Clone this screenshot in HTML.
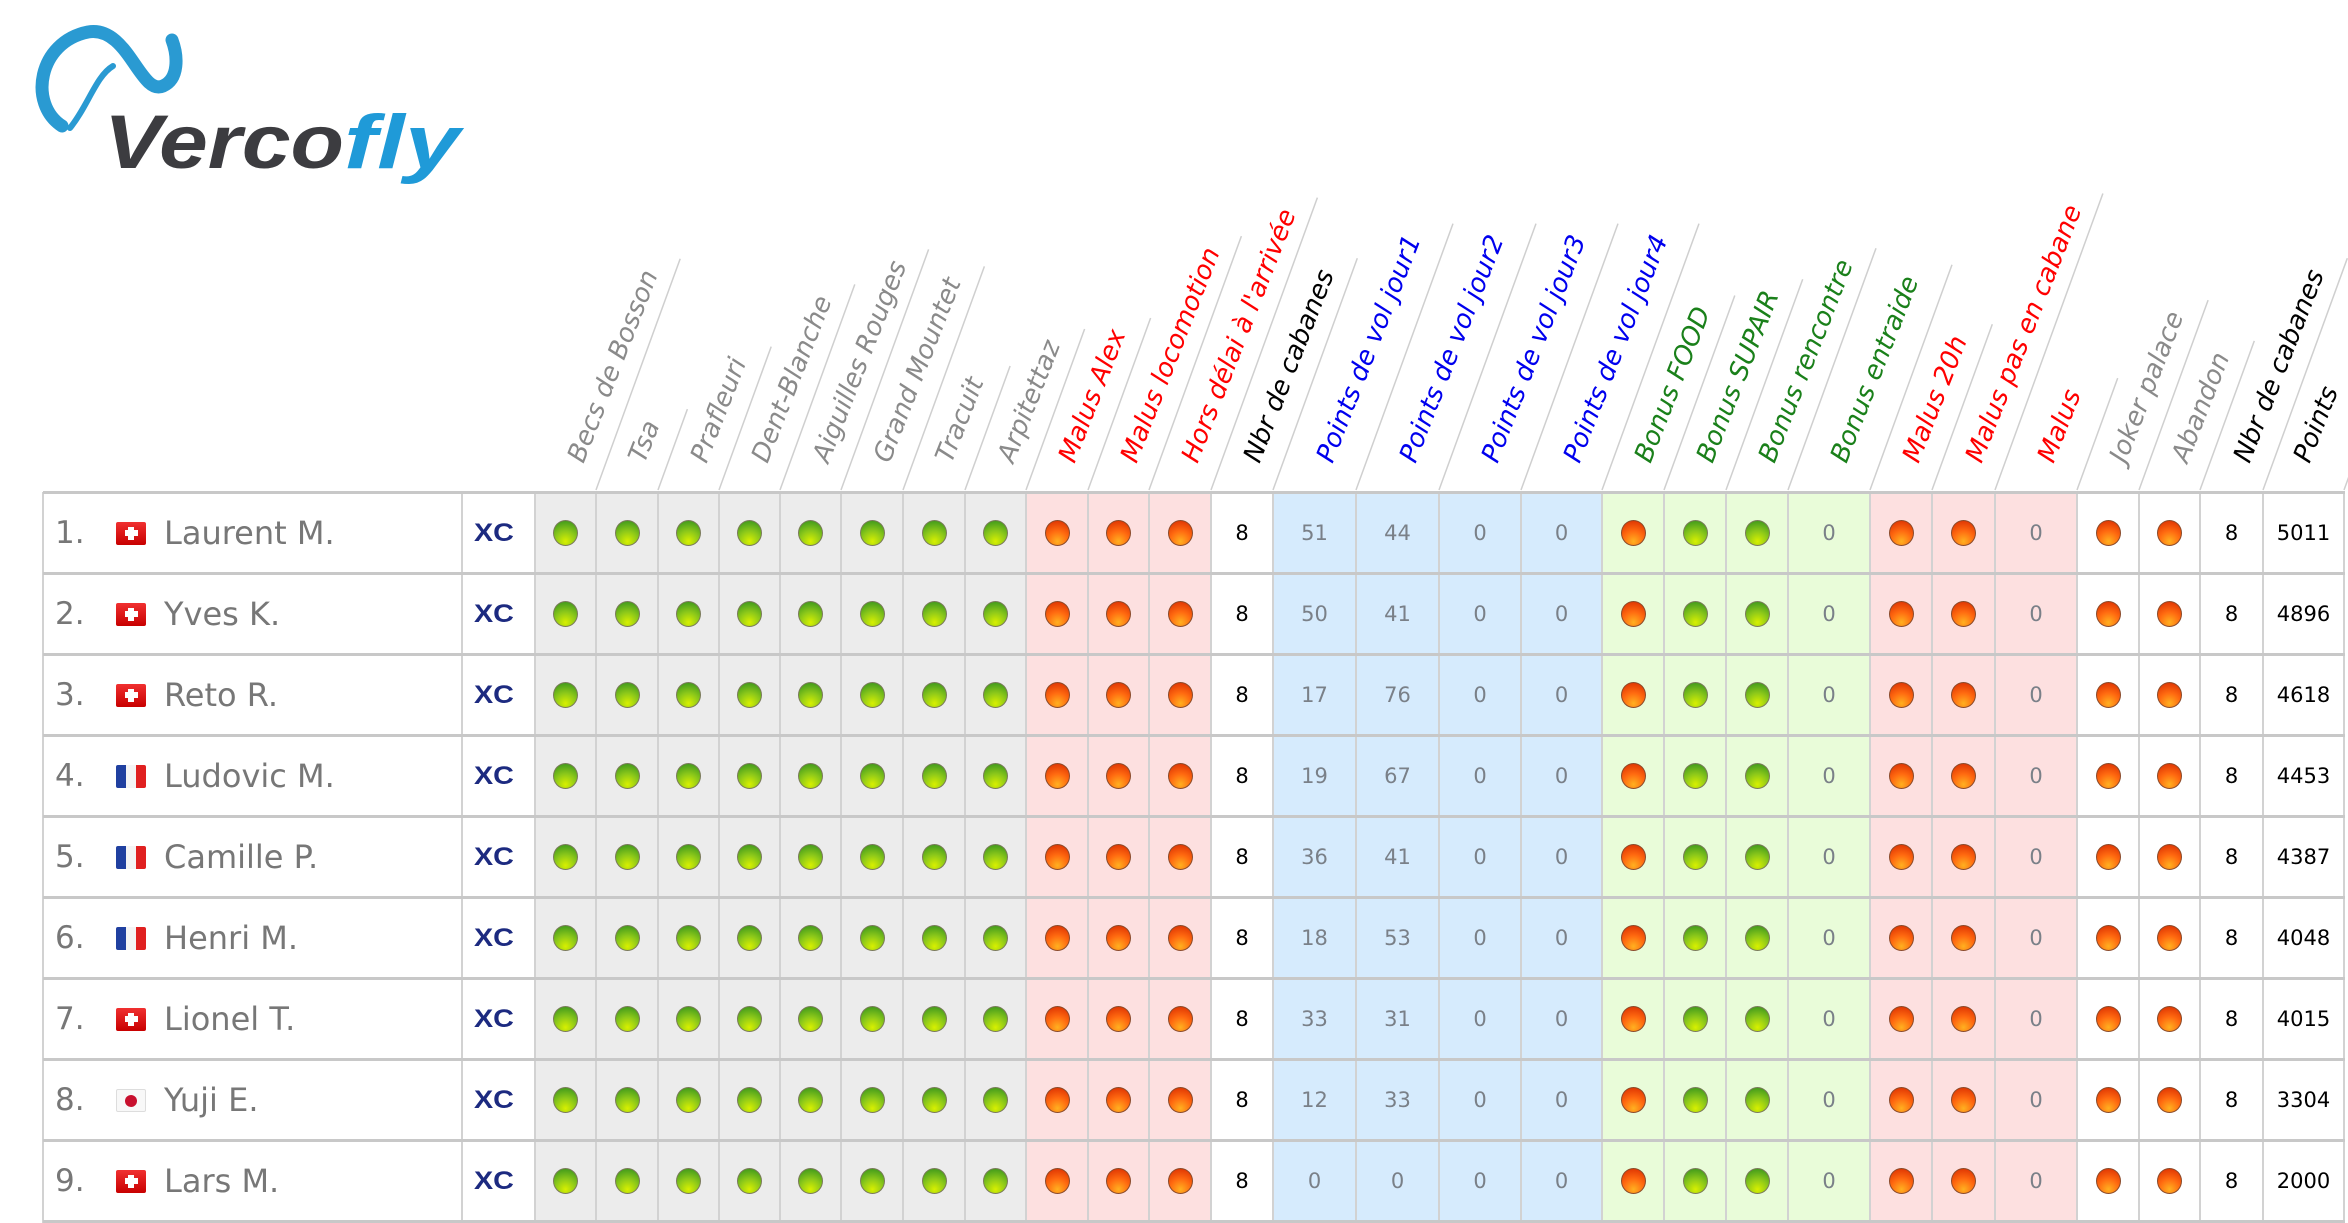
<!DOCTYPE html>
<html><head><meta charset="utf-8">
<style>
html,body{margin:0;padding:0;background:#fff;}
body{width:2348px;height:1223px;position:relative;overflow:hidden;font-family:"DejaVu Sans","Liberation Sans",sans-serif;}
.a{position:absolute;box-sizing:border-box;}
.hd{position:absolute;font-style:italic;font-size:26px;line-height:26px;white-space:nowrap;transform-origin:0 100%;transform:rotate(-68.5deg);}
.dot{position:absolute;width:25px;height:26px;border-radius:50%;box-sizing:border-box;border:1px solid #7a7a5a;}
.g{background:radial-gradient(circle at 50% 85%,#d8f000 0%,#8cc81a 45%,#2f8f1c 100%);}
.r{background:radial-gradient(circle at 50% 85%,#ffb020 0%,#ff6a10 45%,#d82a00 100%);border-color:#8a4a2a;}
.num{position:absolute;font-size:21px;text-align:center;line-height:24px;}
</style></head><body>
<svg class="a" style="left:0;top:0" width="500" height="220">
<path d="M62,126 C28,104 38,42 88,32 C128,25 140,96 163,86 C179,79 178,56 172,40" fill="none" stroke="#2a9ad2" stroke-width="13" stroke-linecap="round"/>
<path d="M113,66 C96,76 88,106 70,128" fill="none" stroke="#2a9ad2" stroke-width="6" stroke-linecap="round"/>
<text x="104" y="168" font-family="Liberation Sans" font-weight="bold" font-style="italic" font-size="76" fill="#3c3c40" textLength="240" lengthAdjust="spacingAndGlyphs">Verco</text>
<text x="344" y="168" font-family="Liberation Sans" font-weight="bold" font-style="italic" font-size="76" fill="#1f9ad8" textLength="116" lengthAdjust="spacingAndGlyphs">fly</text>
</svg>
<svg id="lines" class="a" style="left:0;top:0" width="2348" height="500"></svg>
<div id="root"></div>
<script>
var B=[535,596,658,719,780,841,903,965,1026,1088,1149,1211,1273,1356,1439,1521,1602,1664,1726,1788,1870,1932,1995,2077,2139,2200,2263,2344];
var GR="#8a8a8a",RD="#ff0000",BK="#000",BL="#0000ee",GN="#1a801a";
var H=[["Becs de Bosson",GR],["Tsa",GR],["Prafleuri",GR],["Dent-Blanche",GR],["Aiguilles Rouges",GR],["Grand Mountet",GR],["Tracuit",GR],["Arpitettaz",GR],
["Malus Alex",RD],["Malus locomotion",RD],["Hors délai à l'arrivée",RD],["Nbr de cabanes",BK],
["Points de vol jour1",BL],["Points de vol jour2",BL],["Points de vol jour3",BL],["Points de vol jour4",BL],
["Bonus FOOD",GN],["Bonus SUPAIR",GN],["Bonus rencontre",GN],["Bonus entraide",GN],
["Malus 20h",RD],["Malus pas en cabane",RD],["Malus",RD],["Joker palace",GR],["Abandon",GR],["Nbr de cabanes",BK],["Points",BK]];
var BG=[];for(var i=0;i<27;i++){BG[i]=i<8?"#ececec":i<11?"#fde0e0":i==11?"#fff":i<16?"#d6ebfd":i<20?"#e9fcd9":i<23?"#fde0e0":"#fff";}
var R=[[1,"CH","Laurent M.",51,44,5011],[2,"CH","Yves K.",50,41,4896],[3,"CH","Reto R.",17,76,4618],[4,"FR","Ludovic M.",19,67,4453],[5,"FR","Camille P.",36,41,4387],[6,"FR","Henri M.",18,53,4048],[7,"CH","Lionel T.",33,31,4015],[8,"JP","Yuji E.",12,33,3304],[9,"CH","Lars M.",0,0,2000]];
var root=document.getElementById("root"),h="";
var T=492,RH=81;
for(var i=0;i<27;i++)h+='<div class="a" style="left:'+B[i]+'px;top:'+T+'px;width:'+(B[i+1]-B[i])+'px;height:'+(RH*9)+'px;background:'+BG[i]+'"></div>';
var V=[43,462].concat(B);
for(var i=0;i<V.length;i++)h+='<div class="a" style="left:'+(V[i]-1)+'px;top:'+T+'px;width:2px;height:'+(RH*9+2)+'px;background:#d2d2d2"></div>';
for(var r=0;r<=9;r++)h+='<div class="a" style="left:43px;top:'+(T+r*RH-1)+'px;width:2302px;height:3px;background:#c8c8c8"></div>';
function flag(f,x,y){
 if(f=="CH")return '<div class="a" style="left:'+x+'px;top:'+y+'px;width:30px;height:23px;background:linear-gradient(#f03030,#c80000);border-radius:2px"><div class="a" style="left:12px;top:5px;width:6px;height:13px;background:#fff"></div><div class="a" style="left:8.5px;top:8.5px;width:13px;height:6px;background:#fff"></div></div>';
 if(f=="FR")return '<div class="a" style="left:'+x+'px;top:'+y+'px;width:30px;height:23px;background:linear-gradient(90deg,#2040a0 0 33%,#f4f4f4 33% 66%,#e02020 66%);border-radius:2px"></div>';
 return '<div class="a" style="left:'+x+'px;top:'+y+'px;width:30px;height:23px;background:#f8f8f8;border:1px solid #ddd;border-radius:2px"><div class="a" style="left:8px;top:5px;width:12px;height:12px;border-radius:50%;background:#c8102e"></div></div>';
}
for(var r=0;r<9;r++){
 var d=R[r],y=T+r*RH,cy=y+RH/2;
 h+='<div class="a" style="left:55px;top:'+(cy-19)+'px;font-size:31px;line-height:38px;color:#777">'+d[0]+'.</div>';
 h+=flag(d[1],116,cy-11);
 h+='<div class="a" style="left:164px;top:'+(cy-19)+'px;font-size:32px;line-height:38px;color:#777;white-space:nowrap">'+d[2]+'</div>';
 h+='<div class="a" style="left:474px;top:'+(cy-14)+'px;font-family:Liberation Sans;font-weight:bold;font-size:25px;line-height:28px;color:#1c2a80;transform:scaleX(1.15);transform-origin:0 50%">XC</div>';
 for(var i=0;i<27;i++){
  var cx=(B[i]+B[i+1])/2,w=B[i+1]-B[i],c=null,t=null,col="#7a8088";
  if(i<8||i==17||i==18)c="g";
  else if(i<11||i==16||i==20||i==21||i==23||i==24)c="r";
  else if(i==11||i==25){t=8;col="#000";}
  else if(i==12)t=d[3];else if(i==13)t=d[4];
  else if(i==14||i==15||i==19||i==22)t=0;
  else if(i==26){t=d[5];col="#000";}
  if(c)h+='<div class="dot '+c+'" style="left:'+(cx-12.5)+'px;top:'+(cy-13)+'px"></div>';
  else h+='<div class="num" style="left:'+B[i]+'px;width:'+w+'px;top:'+(cy-12)+'px;color:'+col+'">'+t+'</div>';
 }
}
for(var i=0;i<27;i++){
 var cx=(B[i]+B[i+1])/2;
 if(i==26)cx-=12;
 h+='<div class="hd" id="h'+i+'" style="left:'+(cx+22)+'px;top:'+(466-26)+'px;color:'+H[i][1]+'">'+H[i][0]+'</div>';
}
root.innerHTML=h;
var s="",tn=Math.tan(70*Math.PI/180);
for(var i=0;i<27;i++){
 var rc=document.getElementById("h"+i).getBoundingClientRect();
 var ly=rc.top-8; var hh=490-ly;
 var x0=B[i+1];
 s+='<line x1="'+x0+'" y1="490" x2="'+(x0+hh/tn).toFixed(1)+'" y2="'+ly.toFixed(1)+'" stroke="#cfcfcf" stroke-width="1.5"/>';
}
document.getElementById("lines").innerHTML=s;
</script>
</body></html>
